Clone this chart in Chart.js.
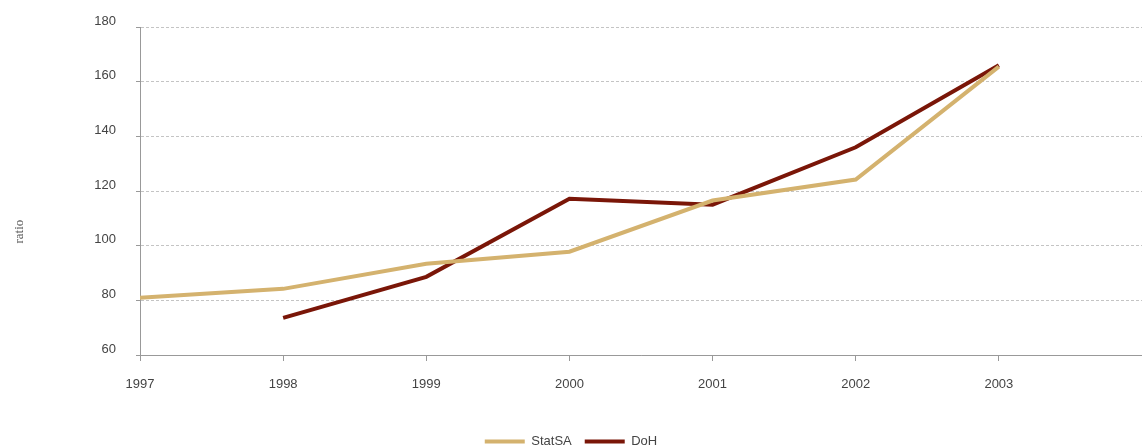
<!DOCTYPE html>
<html>
<head>
<meta charset="utf-8">
<script src="https://cdn.jsdelivr.net/npm/chart.js@4"></script>
<style>
  html, body { margin: 0; padding: 0; background: #fff; }
  #wrap { width: 1142px; height: 448px; }
</style>
</head>
<body>
<div id="wrap"><canvas id="ratioChart"></canvas></div>
<script>
// 比率折线图
const years = [1997, 1998, 1999, 2000, 2001, 2002, 2003];
const statSA = [80.9, 84.2, 93.4, 97.8, 116.5, 124.2, 165.5];
const doh = [null, 73.6, 88.6, 117.2, 115.0, 136.0, 166.0];
const yTicks = [60, 80, 100, 120, 140, 160, 180];

const toPoints = (vals) => years.map((y, i) => ({ x: y, y: vals[i] }));
const fontSans = '"Liberation Sans", Arial, sans-serif';

const ctx = document.getElementById('ratioChart').getContext('2d');
const chart = new Chart(ctx, {
  type: 'line',
  data: {
    datasets: [{
      label: 'StatSA',
      data: toPoints(statSA),
      borderColor: '#d4b26e',
      backgroundColor: '#d4b26e',
      borderWidth: 4,
      pointRadius: 0,
      tension: 0
    }, {
      label: 'DoH',
      data: toPoints(doh),
      borderColor: '#7a1608',
      backgroundColor: '#7a1608',
      borderWidth: 4,
      pointRadius: 0,
      tension: 0
    }]
  },
  options: {
    responsive: true,
    maintainAspectRatio: false,
    animation: false,
    layout: { padding: { top: 27, right: 0, bottom: -10, left: 0 } },
    plugins: {
      tooltip: { enabled: false },
      legend: {
        position: 'bottom',
        labels: {
          boxWidth: 40,
          boxHeight: 4,
          padding: 13,
          color: '#444',
          font: { family: fontSans, size: 13 },
          generateLabels: (c) => Chart.defaults.plugins.legend.labels.generateLabels(c)
            .map(it => Object.assign(it, { lineWidth: 0 }))
        }
      }
    },
    scales: {
      x: {
        type: 'linear',
        min: 1997,
        max: 2004,
        afterFit: (s) => { s.height = 67; s.paddingLeft = 0; s.paddingRight = 0; },
        afterBuildTicks: (s) => { s.ticks = years.concat([2004]).map(v => ({ value: v })); },
        border: { color: '#999', width: 1 },
        grid: { drawOnChartArea: false, drawTicks: true, tickLength: 6, color: '#999' },
        ticks: {
          padding: 16,
          maxRotation: 0,
          autoSkip: false,
          color: '#444',
          font: { family: fontSans, size: 13 },
          callback: (v) => (v === 2004 ? '' : String(v))
        }
      },
      y: {
        min: 60,
        max: 180,
        afterFit: (s) => { s.width = 140; s.paddingTop = 0; s.paddingBottom = 0; },
        afterBuildTicks: (s) => { s.ticks = yTicks.map(v => ({ value: v })); },
        border: { color: '#999', width: 1, dash: [3, 2] },
        grid: {
          color: '#c4c4c4',
          tickBorderDash: [],
          tickColor: '#999',
          tickLength: 4
        },
        ticks: {
          padding: 20,
          color: '#444',
          font: { family: fontSans, size: 13, lineHeight: 0.9 },
          callback: (v) => [String(v), '']
        },
        title: {
          display: true,
          // trailing spaces push the visible word down toward the lower part of the axis
          text: 'ratio                         ',
          color: '#555',
          padding: { top: 12, bottom: 0 },
          font: { family: '"Liberation Serif", "DejaVu Serif", serif', size: 13 }
        }
      }
    }
  }
});
</script>
</body>
</html>
